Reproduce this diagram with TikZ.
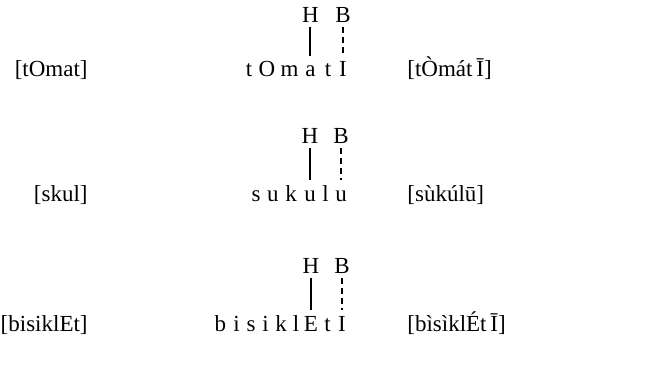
\documentclass[tikz,border=0pt]{standalone}
\usepackage{fontspec}
\setmainfont{Liberation Serif}
\begin{document}
\begin{tikzpicture}[x=0.5pt,y=-0.5pt,
  lt/.style={inner sep=0pt, anchor=base, font=\fontsize{11.5}{13}\selectfont},
  word/.style={inner sep=0pt, font=\fontsize{11.5}{13}\selectfont},
  tone/.style={inner sep=0pt, anchor=base, font=\fontsize{11.5}{13}\selectfont},
  assoc/.style={line width=1pt},
  floating/.style={line width=1pt, dash pattern=on 3pt off 2pt}]
\useasboundingbox (0,0) rectangle (650,381);
% ---------- Row 1 ----------
\node[word, anchor=base east] (l1) at (88,76) {[tOmat]};
\node[word, anchor=base west] (r1) at (407,76) {[tÒmát\,Ī]};
\node[lt] (m1a) at (249,76) {t};
\node[lt] (m1b) at (267,76) {O};
\node[lt] (m1c) at (289.5,76) {m};
\node[lt] (m1d) at (310.5,76) {a};
\node[lt] (m1e) at (328,76) {t};
\node[lt] (m1f) at (343,76) {I};
\node[tone] (h1) at ([yshift=27pt]m1d.base) {H};
\node[tone] (b1) at ([yshift=27pt]m1f.base) {B};
\draw[assoc] ([yshift=-2.5pt]h1.base) -- ([yshift=10pt]m1d.base);
\draw[floating] ([yshift=-2.5pt]b1.base) -- ([yshift=10pt]m1f.base);
% ---------- Row 2 ----------
\node[word, anchor=base east] (l2) at (88,201) {[skul]};
\node[word, anchor=base west] (r2) at (407,201) {[sùkúlū]};
\node[lt] (m2a) at (256,201) {s};
\node[lt] (m2b) at (273,201) {u};
\node[lt] (m2c) at (291,201) {k};
\node[lt] (m2d) at (310,201) {u};
\node[lt] (m2e) at (325.5,201) {l};
\node[lt] (m2f) at (341,201) {u};
\node[tone] (h2) at ([yshift=29pt]m2d.base) {H};
\node[tone] (b2) at ([yshift=29pt]m2f.base) {B};
\draw[assoc] ([yshift=-2.5pt]h2.base) -- ([yshift=10.5pt]m2d.base);
\draw[floating] ([yshift=-2.5pt]b2.base) -- ([yshift=10.5pt]m2f.base);
% ---------- Row 3 ----------
\node[word, anchor=base east] (l3) at (88,331) {[bisiklEt]};
\node[word, anchor=base west] (r3) at (407,331) {[bìsìklÉt\,Ī]};
\node[lt] (m3a) at (220.5,331) {b};
\node[lt] (m3b) at (236.5,331) {i};
\node[lt] (m3c) at (251,331) {s};
\node[lt] (m3d) at (265.5,331) {i};
\node[lt] (m3e) at (281,331) {k};
\node[lt] (m3f) at (296,331) {l};
\node[lt] (m3g) at (311,331) {E};
\node[lt] (m3h) at (327.5,331) {t};
\node[lt] (m3i) at (342,331) {I};
\node[tone] (h3) at ([yshift=29pt]m3g.base) {H};
\node[tone] (b3) at ([yshift=29pt]m3i.base) {B};
\draw[assoc] ([yshift=-2.5pt]h3.base) -- ([yshift=10.5pt]m3g.base);
\draw[floating] ([yshift=-2.5pt]b3.base) -- ([yshift=10.5pt]m3i.base);
\end{tikzpicture}
\end{document}
